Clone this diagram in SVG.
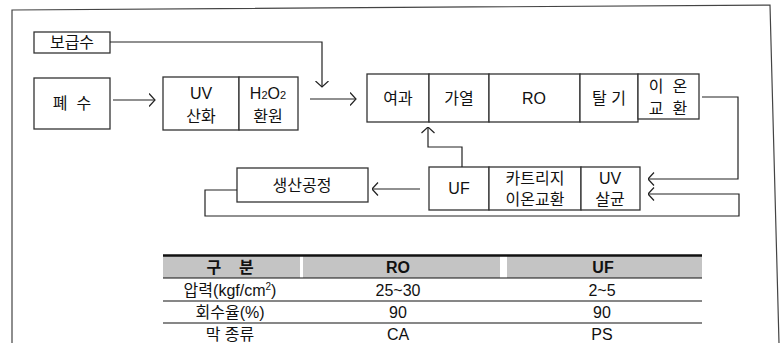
<svg xmlns="http://www.w3.org/2000/svg" width="781" height="343" viewBox="0 0 781 343">
<style>
.bx{fill:#fff;stroke:#333;stroke-width:1.3}
.t{font-family:"Liberation Sans","Noto Sans CJK KR",sans-serif;font-size:16px;fill:#111;text-anchor:middle}
.c{fill:none;stroke:#222;stroke-width:1.2}
.fr{fill:none;stroke:#444;stroke-width:1.2}
.hd{fill:#c4c4c4}
.rl{stroke:#111;stroke-width:1.2}
.th{font-weight:bold}
</style>
<defs>
<marker id="ah" viewBox="0 0 7 14" refX="6.5" refY="7" markerWidth="7" markerHeight="14" markerUnits="userSpaceOnUse" orient="auto">
<path d="M0.5,0.5 L6.5,7 L0.5,13.5" fill="none" stroke="#222" stroke-width="1.2"/>
</marker>
</defs>
<path class="fr" d="M12,343 V10 L770,5 L779,343"/>
<g id="n-bogeupsu"><rect class="bx" x="34" y="32" width="76" height="21"/><text class="t" x="72" y="48">보급수</text></g>
<g id="n-pyesu"><rect class="bx" x="34" y="78" width="76" height="51"/><text class="t" x="72" y="109" xml:space="preserve">폐  수</text></g>
<g id="n-uv-oxid"><rect class="bx" x="163" y="77" width="76" height="53"/><text class="t" x="201" y="99">UV</text><text class="t" x="201" y="122">산화</text></g>
<g id="n-h2o2"><rect class="bx" x="239" y="77" width="59" height="53"/><text class="t" x="268" y="99">H<tspan font-size="11">2</tspan>O<tspan font-size="11">2</tspan></text><text class="t" x="268" y="122">환원</text></g>
<g id="n-filter"><rect class="bx" x="367" y="74" width="62" height="48"/><text class="t" x="398" y="104">여과</text></g>
<g id="n-heat"><rect class="bx" x="429" y="74" width="60" height="48"/><text class="t" x="459" y="104">가열</text></g>
<g id="n-ro"><rect class="bx" x="489" y="74" width="91" height="48"/><text class="t" x="534" y="104">RO</text></g>
<g id="n-degas"><rect class="bx" x="580" y="74" width="58" height="48"/><text class="t" x="609" y="104" xml:space="preserve">탈 기</text></g>
<g id="n-ionex"><rect class="bx" x="638" y="74" width="61" height="45"/><text class="t" x="668" y="92" xml:space="preserve">이  온</text><text class="t" x="668" y="114" xml:space="preserve">교  환</text></g>
<g id="n-prod"><rect class="bx" x="237" y="168" width="131" height="34"/><text class="t" x="302" y="191">생산공정</text></g>
<g id="n-uf"><rect class="bx" x="429" y="167" width="60" height="43"/><text class="t" x="459" y="194">UF</text></g>
<g id="n-cart"><rect class="bx" x="489" y="167" width="92" height="43"/><text class="t" x="535" y="184">카트리지</text><text class="t" x="535" y="205">이온교환</text></g>
<g id="n-uvster"><rect class="bx" x="581" y="167" width="59" height="43"/><text class="t" x="610" y="184">UV</text><text class="t" x="610" y="205">살균</text></g>
<g id="connectors">
<path class="c" d="M110,42 H322 V87" marker-end="url(#ah)"/>
<path class="c" d="M113,100 H155" marker-end="url(#ah)"/>
<path class="c" d="M310,99 H356" marker-end="url(#ah)"/>
<path class="c" d="M702,97 H738 V179 H648" marker-end="url(#ah)"/>
<path class="c" d="M237,190 H205 V216 H739 V194 H648" marker-end="url(#ah)"/>
<path class="c" d="M420,189 H372" marker-end="url(#ah)"/>
<path class="c" d="M462,167 V147 H428 V127" marker-end="url(#ah)"/>
</g>
<g id="table">
<rect class="hd" x="163" y="256" width="137" height="22"/>
<rect class="hd" x="303" y="256" width="197" height="22"/>
<rect class="hd" x="507" y="256" width="195" height="22"/>
<line x1="163" y1="255.5" x2="702" y2="255.5" stroke="#111" stroke-width="2.5"/>
<line class="rl" x1="163" y1="278" x2="702" y2="278"/>
<line class="rl" x1="163" y1="301" x2="702" y2="301"/>
<line class="rl" x1="163" y1="323" x2="702" y2="323"/>
<text class="t th" x="230" y="273" xml:space="preserve">구    분</text>
<text class="t th" x="398" y="273">RO</text>
<text class="t th" x="603" y="273">UF</text>
<text class="t" x="230" y="296">압력(kgf/cm<tspan font-size="10" dy="-6">2</tspan><tspan dy="6">)</tspan></text>
<text class="t" x="398" y="296">25~30</text>
<text class="t" x="602" y="296">2~5</text>
<text class="t" x="230" y="318">회수율(%)</text>
<text class="t" x="398" y="318">90</text>
<text class="t" x="602" y="318">90</text>
<text class="t" x="230" y="340">막 종류</text>
<text class="t" x="398" y="340">CA</text>
<text class="t" x="602" y="340">PS</text>
</g>
</svg>
